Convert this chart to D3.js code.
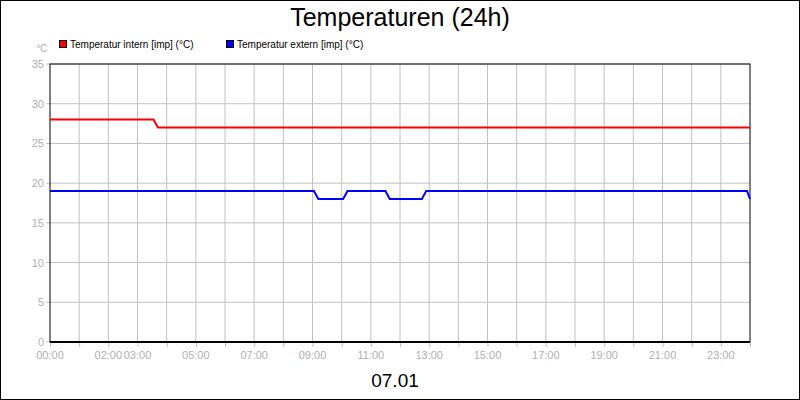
<!DOCTYPE html><html><head><meta charset="utf-8"><script src="https://cdn.jsdelivr.net/npm/d3@7"></script>
<style>body{margin:0}svg{display:block;font-family:"Liberation Sans",Arial,sans-serif}</style></head><body><svg id="c" width="800" height="400"></svg>
<script>
const seriesNames=["Temperatur intern [imp] (°C)","Temperatur extern [imp] (°C)"];
const colors=["#ff0000","#0000ff"];
const internHours=[0,3.55,3.7,24];
const internValues=[28,28,27,27];
const externHours=[0,9.05,9.2,10.05,10.2,11.5,11.65,12.75,12.9,23.9,24];
const externValues=[19,19,18,18,19,19,18,18,19,19,18];
const xTickHours=[0,2,3,5,7,9,11,13,15,17,19,21,23];
const xTickLabels=["00:00","02:00","03:00","05:00","07:00","09:00","11:00","13:00","15:00","17:00","19:00","21:00","23:00"];
const yTicks=[0,5,10,15,20,25,30,35];

const svg=d3.select("#c");
svg.append("rect").attr("x",0.5).attr("y",0.5).attr("width",799).attr("height",399).attr("fill","#fff").attr("stroke","#000");
const L=50,R=750,T=64,B=342;
const x=d3.scaleLinear().domain([0,24]).range([L,R]);
const y=d3.scaleLinear().domain([0,35]).range([B,T]);
const g=svg.append("g");
g.selectAll(".vg").data(d3.range(1,24)).join("line").attr("x1",d=>x(d)).attr("x2",d=>x(d)).attr("y1",T).attr("y2",B).attr("stroke","#c0c0c0");
g.selectAll(".hg").data(yTicks.slice(1)).join("line").attr("x1",L).attr("x2",R).attr("y1",d=>y(d)).attr("y2",d=>y(d)).attr("stroke","#c0c0c0");
g.selectAll(".xt").data(d3.range(0,25)).join("line").attr("x1",d=>x(d)+0.5).attr("x2",d=>x(d)+0.5).attr("y1",B).attr("y2",B+5).attr("stroke","#c0c0c0");
g.selectAll(".yt").data(yTicks).join("line").attr("x1",L-4).attr("x2",L).attr("y1",d=>y(d)).attr("y2",d=>y(d)).attr("stroke","#c0c0c0");
g.selectAll(".xl").data(xTickHours).join("text").attr("x",d=>x(d)).attr("y",B+17).attr("text-anchor","middle").attr("font-size",11).attr("fill","#b0b0b0").text((d,i)=>xTickLabels[i]);
g.selectAll(".yl").data(yTicks).join("text").attr("x",L-6).attr("y",d=>y(d)+4).attr("text-anchor","end").attr("font-size",11).attr("fill","#b0b0b0").text(d=>d);
g.append("rect").attr("x",L).attr("y",T).attr("width",R-L).attr("height",B-T).attr("fill","none").attr("stroke","#000");
g.append("line").attr("x1",L).attr("x2",R).attr("y1",B).attr("y2",B).attr("stroke","#000").attr("stroke-width",2);
const line=d3.line().x(d=>x(d[0])).y(d=>y(d[1]));
[[internHours,internValues],[externHours,externValues]].forEach(([h,v],i)=>{
  g.append("path").attr("d",line(h.map((t,j)=>[t,v[j]]))).attr("fill","none").attr("stroke",colors[i]).attr("stroke-width",2);
});
svg.append("text").attr("x",400).attr("y",26).attr("text-anchor","middle").attr("font-size",25).text("Temperaturen (24h)");
svg.append("text").attr("x",395).attr("y",387).attr("text-anchor","middle").attr("font-size",19).text("07.01");
svg.append("text").attr("x",42).attr("y",52).attr("text-anchor","middle").attr("font-size",10).attr("fill","#b0b0b0").text("°C");
const lx=[59,226];
seriesNames.forEach((n,i)=>{
  svg.append("rect").attr("x",lx[i]+0.5).attr("y",40.5).attr("width",7).attr("height",7).attr("fill",colors[i]).attr("stroke","#000");
  svg.append("text").attr("x",lx[i]+11).attr("y",48).attr("font-size",10).text(n);
});
</script></body></html>
